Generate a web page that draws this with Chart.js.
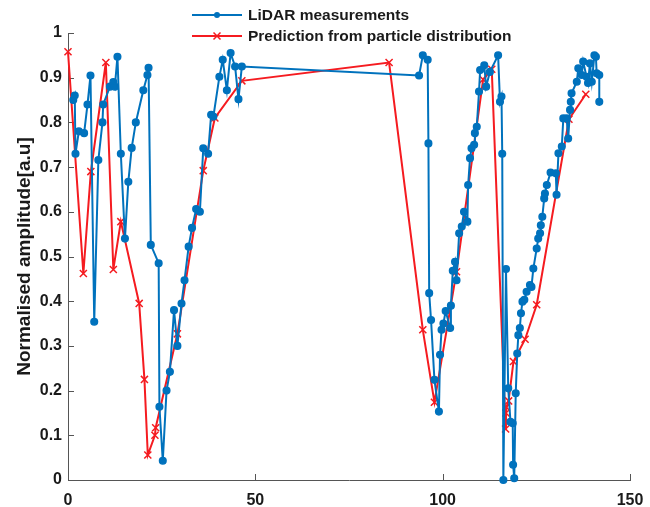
<!DOCTYPE html>
<html>
<head>
<meta charset="utf-8">
<script src="https://cdn.jsdelivr.net/npm/chart.js@4.4.0/dist/chart.umd.min.js"></script>
<style>
html, body { margin: 0; padding: 0; background: #fff; }
</style>
</head>
<body>
<canvas id="lidarCanvas" width="650" height="507"></canvas>
<script>
// LiDAR measurements (blue)
var lidarX = [
    1.4, 1.8, 2.0, 2.9, 4.3, 5.2, 6.0, 7.0, 8.1, 9.2,
    9.4, 11.2, 12.1, 12.5, 13.2, 14.1, 15.2, 16.1, 17.0, 18.1,
    20.1, 21.2, 21.5, 22.1, 24.2, 24.4, 25.3, 26.3, 27.2, 28.3,
    29.2, 30.3, 31.1, 32.2, 33.1, 34.2, 35.2, 36.1, 37.4, 38.2,
    38.8, 40.4, 41.3, 42.4, 43.4, 44.6, 45.5, 46.4,
    93.7, 94.7, 96.0, 96.2, 96.4, 96.9, 97.8, 99.0, 99.3, 99.7,
    100.2, 100.8, 102.0, 102.2, 102.7, 103.3, 103.7, 104.4, 105.1, 105.7,
    106.6, 106.8, 107.3, 107.7, 108.4, 108.6, 109.1, 109.7, 110.0, 111.1,
    111.6, 112.6, 114.8, 115.3, 115.7, 115.9, 116.2, 116.9, 117.5, 118.1,
    118.7, 118.8, 119.1, 119.5, 119.9, 120.2, 120.6, 120.9, 121.3, 121.8,
    122.4, 123.3, 123.7, 124.2, 125.1, 125.5, 126.0, 126.2, 126.6, 127.1,
    127.3, 127.8, 128.8, 130.2, 130.4, 130.9, 131.8, 132.2, 133.1, 133.5,
    134.0, 134.2, 134.4, 135.8, 136.2, 137.1, 137.5, 138.4, 138.8, 139.3,
    139.8, 140.5, 140.9, 141.1, 141.8, 141.8
];
var lidarY = [
    0.85, 0.86, 0.73, 0.78, 0.776, 0.84, 0.905, 0.354, 0.716, 0.80,
    0.84, 0.88, 0.89, 0.88, 0.947, 0.73, 0.54, 0.667, 0.743, 0.80,
    0.872, 0.906, 0.922, 0.526, 0.485, 0.164, 0.043, 0.20, 0.242, 0.38,
    0.30, 0.395, 0.447, 0.522, 0.564, 0.606, 0.60, 0.742, 0.73, 0.817,
    0.813, 0.902, 0.94, 0.872, 0.955, 0.925, 0.852, 0.925,
    0.905, 0.95, 0.94, 0.753, 0.418, 0.358, 0.224, 0.153, 0.28, 0.336,
    0.35, 0.378, 0.34, 0.39, 0.468, 0.488, 0.447, 0.552, 0.567, 0.60,
    0.578, 0.66, 0.72, 0.742, 0.75, 0.776, 0.79, 0.869, 0.917, 0.928,
    0.88, 0.913, 0.95, 0.846, 0.858, 0.73, 0.0, 0.472, 0.205, 0.13,
    0.127, 0.034, 0.004, 0.194, 0.283, 0.324, 0.34, 0.373, 0.399, 0.403,
    0.421, 0.436, 0.432, 0.473, 0.518, 0.54, 0.552, 0.57, 0.589, 0.63,
    0.641, 0.66, 0.688, 0.686, 0.638, 0.731, 0.746, 0.809, 0.809, 0.764,
    0.828, 0.846, 0.865, 0.891, 0.921, 0.906, 0.936, 0.902, 0.888, 0.932,
    0.891, 0.95, 0.947, 0.91, 0.906, 0.846
];

// Prediction from particle distribution (red)
var predX = [
    0, 4.1, 6.1, 10.1, 12.1, 14.1, 19.0, 20.4, 21.3, 23.2,
    23.4, 29.2, 36.1, 39.2, 46.4, 85.7, 94.7, 97.8, 103.7, 110.8,
    113.1, 116.8, 116.9, 117.0, 117.6, 118.9, 122.0, 125.1, 133.7, 138.2
];
var predY = [
    0.958, 0.462, 0.69, 0.934, 0.471, 0.578, 0.395, 0.225, 0.056, 0.10,
    0.117, 0.327, 0.692, 0.81, 0.893, 0.934, 0.336, 0.174, 0.466, 0.896,
    0.919, 0.114, 0.15, 0.163, 0.177, 0.265, 0.315, 0.392, 0.807, 0.863
];

var xTickLabels = ['0', '50', '100', '150'];
var yTickLabels = ['0', '0.1', '0.2', '0.3', '0.4', '0.5', '0.6', '0.7', '0.8', '0.9', '1'];
var seriesNames = ['LiDAR measurements', 'Prediction from particle distribution'];

var blue = '#0072BD';
var red = '#F51B20';
var axisGray = '#555555';
var fontFamily = '"Liberation Sans", Arial, Helvetica, sans-serif';

function toPoints(xs, ys){
    var pts = [];
    for (var i = 0; i < xs.length; i++) {
        pts.push({x: xs[i], y: ys[i]});
    }
    return pts;
}

// MATLAB style ticks pointing into the plot
var innerTicks = {
    id: 'innerTicks',
    beforeDatasetsDraw: function(chart){
        var ctx = chart.ctx;
        var xs = chart.scales.x, ys = chart.scales.y;
        var area = chart.chartArea;
        ctx.save();
        ctx.strokeStyle = axisGray;
        ctx.lineWidth = 1;
        ctx.beginPath();
        xs.ticks.forEach(function(t){
            var px = Math.round(xs.getPixelForValue(t.value)) + 0.5;
            ctx.moveTo(px, area.bottom);
            ctx.lineTo(px, area.bottom - 6);
        });
        ys.ticks.forEach(function(t){
            var py = Math.round(ys.getPixelForValue(t.value)) + 0.5;
            ctx.moveTo(area.left, py);
            ctx.lineTo(area.left + 6, py);
        });
        ctx.stroke();
        ctx.restore();
    }
};

// legend sitting on top of the plot, like the original figure
var topLegend = {
    id: 'topLegend',
    afterDraw: function(chart){
        var ctx = chart.ctx;
        var rows = [
            {y: 15, color: blue, marker: 'dot'},
            {y: 36, color: red, marker: 'cross'}
        ];
        ctx.save();
        rows.forEach(function(r, i){
            ctx.strokeStyle = r.color;
            ctx.lineWidth = 2;
            ctx.beginPath();
            ctx.moveTo(192, r.y);
            ctx.lineTo(242, r.y);
            ctx.stroke();
            if (r.marker == 'dot') {
                ctx.fillStyle = r.color;
                ctx.beginPath();
                ctx.arc(217, r.y, 3, 0, Math.PI * 2);
                ctx.fill();
            } else {
                ctx.lineWidth = 1.5;
                ctx.beginPath();
                ctx.moveTo(213.5, r.y - 3.5);
                ctx.lineTo(220.5, r.y + 3.5);
                ctx.moveTo(220.5, r.y - 3.5);
                ctx.lineTo(213.5, r.y + 3.5);
                ctx.stroke();
            }
            ctx.fillStyle = '#1a1a1a';
            ctx.font = 'bold 15.5px ' + fontFamily;
            ctx.textBaseline = 'middle';
            ctx.textAlign = 'left';
            ctx.fillText(seriesNames[i], 248, r.y + 1);
        });
        ctx.restore();
    }
};

var config = {
    type: 'scatter',
    data: {
        datasets: [{
            label: seriesNames[0],
            data: toPoints(lidarX, lidarY),
            showLine: true,
            borderColor: blue,
            backgroundColor: blue,
            borderWidth: 2,
            pointStyle: 'circle',
            pointRadius: 3.3,
            pointBorderWidth: 1.5,
            clip: false
        },{
            label: seriesNames[1],
            data: toPoints(predX, predY),
            showLine: true,
            borderColor: red,
            backgroundColor: red,
            borderWidth: 2,
            pointStyle: 'crossRot',
            pointRadius: 5,
            pointBorderWidth: 1.5,
            clip: false
        }]
    },
    options: {
        responsive: false,
        animation: false,
        layout: { padding: { top: 33, right: 20, left: 0, bottom: 0 } },
        plugins: {
            legend: { display: false },
            tooltip: { enabled: false }
        },
        scales: {
            x: {
                type: 'linear',
                min: 0,
                max: 150,
                afterFit: function(scale){
                    scale.height = 27;
                    scale.paddingRight = 0;
                    scale.paddingLeft = 0;
                },
                afterBuildTicks: function(scale){
                    scale.ticks = xTickLabels.map(function(l){ return {value: parseFloat(l)}; });
                },
                ticks: {
                    padding: 11,
                    color: '#1a1a1a',
                    font: { family: fontFamily, size: 16, weight: 'bold' },
                    maxRotation: 0,
                    callback: function(v, i){ return xTickLabels[i]; }
                },
                grid: { drawOnChartArea: false, drawTicks: false },
                border: { color: axisGray, width: 1 }
            },
            y: {
                min: 0,
                max: 1,
                afterFit: function(scale){ scale.width = 68; },
                afterBuildTicks: function(scale){
                    scale.ticks = yTickLabels.map(function(l){ return {value: parseFloat(l)}; });
                },
                ticks: {
                    padding: 6,
                    color: '#1a1a1a',
                    font: { family: fontFamily, size: 16, weight: 'bold' },
                    callback: function(v, i){ return yTickLabels[i]; }
                },
                title: {
                    display: true,
                    text: 'Normalised amplitude[a.u]',
                    color: '#1a1a1a',
                    font: { family: fontFamily, size: 19, weight: 'bold' },
                    padding: { top: 13, bottom: 0 }
                },
                grid: { drawOnChartArea: false, drawTicks: false },
                border: { color: axisGray, width: 1 }
            }
        }
    },
    plugins: [innerTicks, topLegend]
};

new Chart(document.getElementById('lidarCanvas'), config);
</script>
</body>
</html>
